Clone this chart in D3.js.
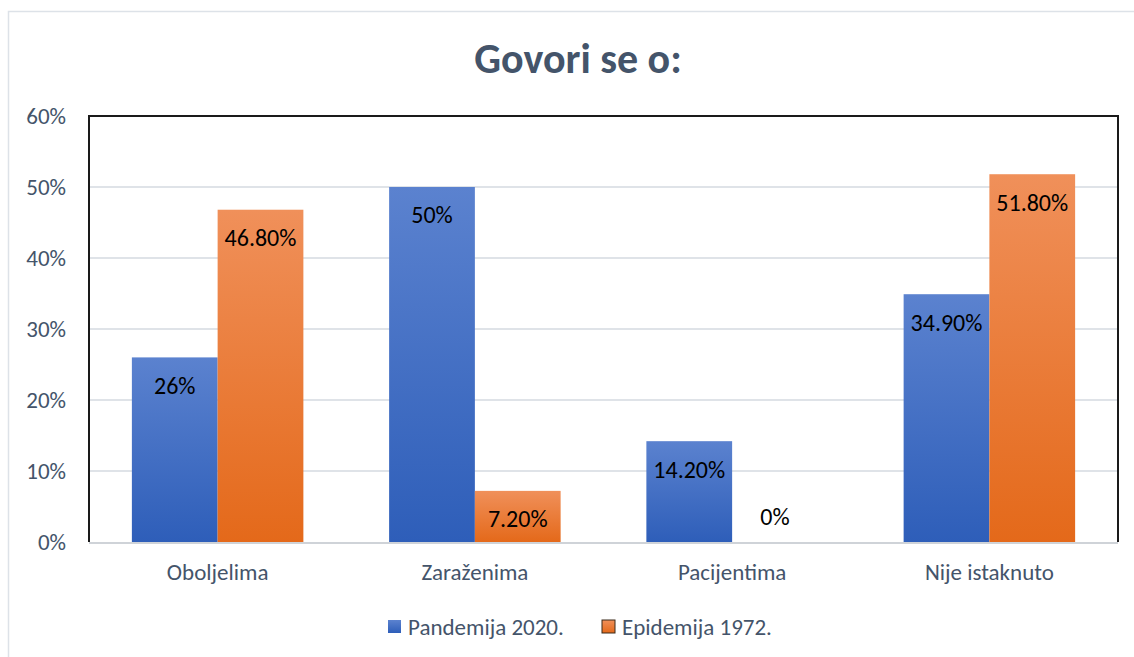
<!DOCTYPE html>
<html>
<head>
<meta charset="utf-8">
<script src="https://cdn.jsdelivr.net/npm/d3@7"></script>
<style>
  body { margin: 0; background: #fff; }
  svg text { font-family: Carlito, Calibri, Lato, sans-serif; }
</style>
</head>
<body>
<div id="chart"></div>
<script>
// Chart data
const categories = ['Oboljelima', 'Zaraženima', 'Pacijentima', 'Nije istaknuto'];
const seriesNames = ['Pandemija 2020.', 'Epidemija 1972.'];
const pandemija2020 = [26, 50, 14.2, 34.9];
const epidemija1972 = [46.8, 7.2, 0, 51.8];
const valueLabels2020 = ['26%', '50%', '14.20%', '34.90%'];
const valueLabels1972 = ['46.80%', '7.20%', '0%', '51.80%'];
const yTicks = [0, 10, 20, 30, 40, 50, 60];

const width = 1134, height = 657;
const margin = { top: 116, right: 16, bottom: 115, left: 89 };
const innerW = width - margin.left - margin.right;
const innerH = height - margin.top - margin.bottom;

const svg = d3.select('#chart').append('svg')
    .attr('width', width)
    .attr('height', height);

// Gradients for the bars
const defs = svg.append('defs');
const gradColors = [['#5b82cf', '#2e5eb9'], ['#f0905a', '#e4691a']];
gradColors.forEach(function (c, i) {
    const g = defs.append('linearGradient')
        .attr('id', 'grad' + i)
        .attr('x1', '0%').attr('y1', '0%')
        .attr('x2', '0%').attr('y2', '100%');
    g.append('stop').attr('offset', '0%').attr('stop-color', c[0]);
    g.append('stop').attr('offset', '100%').attr('stop-color', c[1]);
});

// Outer chart border (partially visible)
svg.append('path')
    .attr('d', 'M8.5,' + height + ' V11.5 H' + width)
    .attr('fill', 'none')
    .attr('stroke', '#dde2e8')
    .attr('stroke-width', 1.5);

// Title
svg.append('text')
    .attr('x', 578)
    .attr('y', 73)
    .attr('text-anchor', 'middle')
    .attr('font-size', 42)
    .attr('font-weight', 'bold')
    .attr('fill', '#44546a')
    .text('Govori se o:');

const g = svg.append('g')
    .attr('transform', 'translate(' + margin.left + ',' + margin.top + ')');

// Scales
const x0 = d3.scaleBand()
    .domain(categories)
    .range([0, innerW])
    .paddingInner(1 / 3)
    .paddingOuter(1 / 6);

const x1 = d3.scaleBand()
    .domain([0, 1])
    .range([0, x0.bandwidth()]);

const y = d3.scaleLinear()
    .domain([0, 60])
    .range([innerH, 0]);

// Gridlines
g.append('g')
    .selectAll('line')
    .data(yTicks.filter(d => d > 0 && d < 60))
    .enter().append('line')
    .attr('x1', 0).attr('x2', innerW)
    .attr('y1', d => y(d)).attr('y2', d => y(d))
    .attr('stroke', '#dfe3e8')
    .attr('stroke-width', 2);

// Y axis
const yAxis = d3.axisLeft(y)
    .tickValues(yTicks)
    .tickFormat(d => d + '%')
    .tickSize(0)
    .tickPadding(23);
const yNode = g.append('g').call(yAxis);
yNode.select('.domain').remove();
yNode.selectAll('text')
    .attr('font-size', 23)
    .attr('fill', '#44546a');

// X axis
const xAxis = d3.axisBottom(x0).tickSize(0).tickPadding(22);
const xNode = g.append('g')
    .attr('transform', 'translate(0,' + innerH + ')')
    .call(xAxis);
xNode.select('.domain').remove();
xNode.selectAll('text')
    .attr('font-size', 23)
    .attr('fill', '#44546a');

// Bars
const series = [pandemija2020, epidemija1972];
const labels = [valueLabels2020, valueLabels1972];

series.forEach(function (values, si) {
    const grp = g.append('g');
    grp.selectAll('rect')
        .data(values)
        .enter().append('rect')
        .attr('x', (d, i) => x0(categories[i]) + x1(si))
        .attr('y', d => y(d))
        .attr('width', x1.bandwidth())
        .attr('height', d => innerH - y(d))
        .attr('fill', 'url(#grad' + si + ')');

    grp.selectAll('text')
        .data(values)
        .enter().append('text')
        .attr('x', (d, i) => x0(categories[i]) + x1(si) + x1.bandwidth() / 2)
        .attr('y', d => d > 0 ? y(d) + 28 : y(d) - 25)
        .attr('dy', '0.35em')
        .attr('text-anchor', 'middle')
        .attr('font-size', 24)
        .attr('fill', '#000')
        .text((d, i) => labels[si][i]);
});

// Plot area border: black on left, top, right; grey baseline
g.append('path')
    .attr('d', 'M0,' + innerH + ' V0 H' + innerW + ' V' + innerH)
    .attr('fill', 'none')
    .attr('stroke', '#1a1a1a')
    .attr('stroke-width', 2);
g.append('line')
    .attr('x1', 0).attr('x2', innerW)
    .attr('y1', innerH + 1).attr('y2', innerH + 1)
    .attr('stroke', '#cfd3d8')
    .attr('stroke-width', 2);

// Legend
const legendItems = [
    { name: seriesNames[0], x: 388, grad: 0, stroke: 'none' },
    { name: seriesNames[1], x: 602, grad: 1, stroke: '#3a2a1a' }
];
const legend = svg.append('g');
legendItems.forEach(function (item) {
    legend.append('rect')
        .attr('x', item.x)
        .attr('y', 620)
        .attr('width', 13)
        .attr('height', 13)
        .attr('fill', 'url(#grad' + item.grad + ')')
        .attr('stroke', item.stroke)
        .attr('stroke-width', 1);
    legend.append('text')
        .attr('x', item.x + 20)
        .attr('y', 627)
        .attr('dy', '0.35em')
        .attr('font-size', 23)
        .attr('fill', '#44546a')
        .text(item.name);
});
</script>
</body>
</html>
